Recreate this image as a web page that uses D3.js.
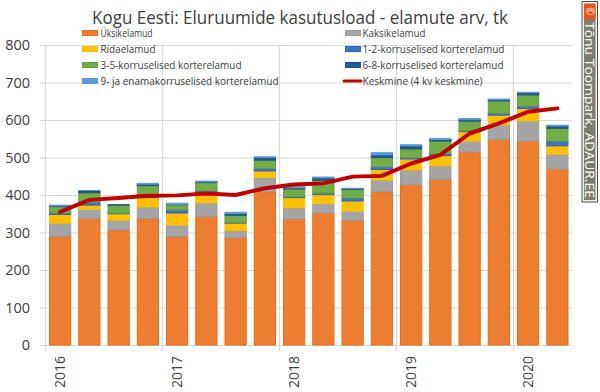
<!DOCTYPE html>
<html>
<head>
<meta charset="utf-8">
<script src="https://cdn.jsdelivr.net/npm/d3@7"></script>
<style>
  html, body { margin: 0; padding: 0; background: #fff; }
  text { font-family: "Open Sans", sans-serif; fill: #404040; }
  .grid line { stroke: #d9d9d9; stroke-width: 1.2; }
</style>
</head>
<body>
<div id="chart"></div>
<script>
const quarters = ["2016","2016K2","2016K3","2016K4","2017","2017K2","2017K3","2017K4","2018","2018K2","2018K3","2018K4","2019","2019K2","2019K3","2019K4","2020","2020K2"];
const yearLabels = ["2016","2017","2018","2019","2020"];
const seriesNames = ["Üksikelamud","Kaksikelamud","Ridaelamud","1-2-korruselised korterelamud","3-5-korruselised korterelamud","6-8-korruselised korterelamud","9- ja enamakorruselised korterelamud"];
const seriesColors = ["#ed7d31","#a5a5a5","#ffc000","#4472c4","#70ad47","#255e91","#5b9bd5"];
const seriesEdges = ["#ee6c14","#9b9b9b","#ffc000","#2f62c4","#65a33c","#1c4f80","#5b9bd5"];

const yksik  = [290,338,307,337,289,342,287,409,336,352,333,409,427,442,515,548,544,469];
const kaksik = [35,24,26,31,31,37,18,38,30,25,24,31,40,36,29,39,54,40];
const rida   = [23,11,17,25,32,26,20,17,27,24,27,28,29,27,25,26,33,22];
const k12    = [4,8,2,8,8,6,2,7,3,4,8,7,4,5,2,5,6,13];
const k35    = [17,25,21,24,14,22,19,22,20,34,23,25,23,34,26,33,30,34];
const k68    = [2,5,1,4,1,2,5,7,3,7,2,7,8,4,4,3,6,6];
const k9     = [2,0,0,2,3,2,3,2,3,2,1,6,3,3,3,2,1,2];
const keskmine = [355,387,392,398,399,404,400,418,428,431,449,451,484,507,564,591,622,631];

const seriesValues = [yksik, kaksik, rida, k12, k35, k68, k9];

const width = 600, height = 392;
const margin = {top: 45, right: 28, bottom: 47, left: 45.5};

const svg = d3.select("#chart").append("svg")
    .attr("width", width)
    .attr("height", height)
    .style("display", "block");

const x = d3.scaleBand()
    .domain(quarters)
    .range([margin.left, width - margin.right])
    .paddingInner(0.24)
    .paddingOuter(0.12);

const y = d3.scaleLinear()
    .domain([0, 800])
    .range([height - margin.bottom, margin.top]);

// horizontal grid + y labels
const yAxis = svg.append("g")
    .attr("class", "grid")
    .attr("transform", `translate(${margin.left},0)`)
    .call(d3.axisLeft(y).tickValues(d3.range(0, 801, 100)).tickSize(5.5).tickPadding(10))
    .call(g => g.select(".domain").remove());
yAxis.selectAll(".tick text").style("font-size", "14.5px");
yAxis.selectAll(".tick").append("line")
    .attr("x1", 0)
    .attr("x2", width - margin.right - margin.left);

// vertical year lines
const step = x.step();
const yearStart = yearLabels.map((d, i) => margin.left + i * 4 * step);
svg.append("g")
    .attr("class", "grid")
    .selectAll("line")
    .data(yearStart)
    .join("line")
    .attr("x1", d => d)
    .attr("x2", d => d)
    .attr("y1", margin.top)
    .attr("y2", height - margin.bottom + 6);

// stacked bars
const stacked = d3.stack().keys(d3.range(seriesNames.length)).value((row, k) => row[k])(
    quarters.map((q, i) => seriesValues.map(s => s[i]))
);

svg.append("g").selectAll("g")
    .data(stacked)
    .join("g")
    .attr("fill", (d, i) => seriesColors[i])
    .attr("stroke", (d, i) => seriesEdges[i])
    .selectAll("rect")
    .data(d => d)
    .join("rect")
    .attr("x", (d, i) => x(quarters[i]) + 0.5)
    .attr("width", x.bandwidth() - 1)
    .attr("y", d => y(d[1]))
    .attr("height", d => Math.max(0, y(d[0]) - y(d[1])));

// moving average
const line = d3.line()
    .x((d, i) => x(quarters[i]) + x.bandwidth() / 2)
    .y(d => y(d));

svg.append("path")
    .datum(keskmine)
    .attr("fill", "none")
    .attr("stroke", "#c00000")
    .attr("stroke-width", 4)
    .attr("stroke-linejoin", "round")
    .attr("stroke-linecap", "round")
    .attr("d", line);

// year labels
svg.append("g").selectAll("text")
    .data(yearLabels)
    .join("text")
    .attr("transform", (d, i) => `translate(${x(quarters[i * 4]) + x.bandwidth() / 2 + 5},356) rotate(-90)`)
    .attr("text-anchor", "end")
    .style("font-size", "14px")
    .text(d => d);

// title
svg.append("text")
    .attr("x", 92)
    .attr("y", 24)
    .attr("textLength", 416)
    .attr("lengthAdjust", "spacingAndGlyphs")
    .style("font-size", "17.5px")
    .text("Kogu Eesti: Eluruumide kasutusload - elamute arv, tk");

// legend
const legendCols = [82, 345];
const legendRows = [33, 49, 65, 81];
const legendOrder = [
  {s: 0, c: 0, r: 0}, {s: 1, c: 1, r: 0},
  {s: 2, c: 0, r: 1}, {s: 3, c: 1, r: 1},
  {s: 4, c: 0, r: 2}, {s: 5, c: 1, r: 2},
  {s: 6, c: 0, r: 3}
];
const legendLengths = [52, 63, 55, 142, 141, 141, 178];

const legend = svg.append("g");
legendOrder.forEach(d => {
  const lx = legendCols[d.c], ly = legendRows[d.r];
  legend.append("rect")
      .attr("x", lx + 0.5).attr("y", ly - 2.5)
      .attr("width", 15).attr("height", 5)
      .attr("fill", seriesColors[d.s])
      .attr("stroke", seriesEdges[d.s]);
  legend.append("text")
      .attr("x", lx + (d.c ? 17.5 : 18.5)).attr("y", ly + 3.8)
      .attr("textLength", legendLengths[d.s])
      .attr("lengthAdjust", "spacingAndGlyphs")
      .style("font-size", "10.5px")
      .text(seriesNames[d.s]);
});
legend.append("line")
    .attr("x1", 344).attr("x2", 361)
    .attr("y1", legendRows[3]).attr("y2", legendRows[3])
    .attr("stroke", "#c00000")
    .attr("stroke-width", 3)
    .attr("stroke-linecap", "round");
legend.append("text")
    .attr("x", 362.5).attr("y", legendRows[3] + 3.8)
    .attr("textLength", 120)
    .attr("lengthAdjust", "spacingAndGlyphs")
    .style("font-size", "10.5px")
    .text("Keskmine (4 kv keskmine)");

// copyright stamp
const stamp = svg.append("g");
stamp.append("rect")
    .attr("x", 582).attr("y", 1.5).attr("width", 15.5).attr("height", 200.5)
    .attr("fill", "#f2f2f2").attr("stroke", "#4d4d44");
stamp.append("rect")
    .attr("x", 584).attr("y", 3.5).attr("width", 11.5).attr("height", 196.5)
    .attr("fill", "#7d7d6b");
stamp.append("rect")
    .attr("x", 584).attr("y", 4).attr("width", 11.5).attr("height", 15)
    .attr("fill", "#f2500f");
stamp.append("text")
    .attr("transform", "translate(586.2,11.5) rotate(90)")
    .attr("text-anchor", "middle")
    .style("font-size", "10px")
    .style("fill", "#fff")
    .text("©");
stamp.append("text")
    .attr("transform", "translate(585.3,22) rotate(90)")
    .attr("textLength", 176)
    .attr("lengthAdjust", "spacingAndGlyphs")
    .style("font-size", "12px")
    .style("fill", "#fff")
    .text("Tõnu Toompark, ADAUR.EE");
</script>
</body>
</html>
